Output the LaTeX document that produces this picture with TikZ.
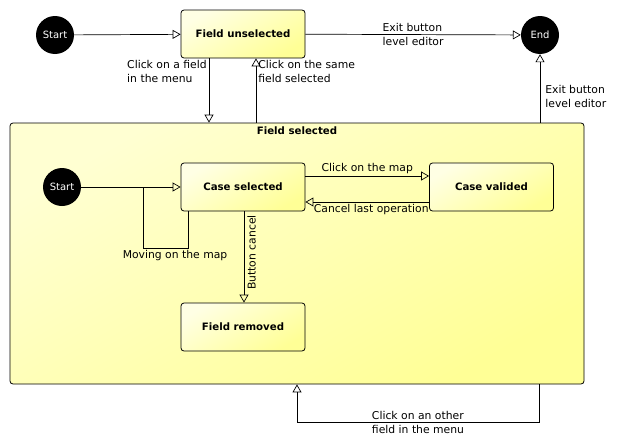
\documentclass[tikz,border=0pt]{standalone}
\usepackage{fontspec}
\setmainfont{DejaVu Sans}
\usetikzlibrary{positioning,shapes,arrows.meta}
\definecolor{statelight}{RGB}{255,255,228}
\definecolor{statedark}{RGB}{255,255,150}
\definecolor{regionlight}{RGB}{255,255,210}
\definecolor{regiondark}{RGB}{255,255,150}

\begin{document}
\begin{tikzpicture}[x=1pt,y=-1pt,font=\fontsize{10.8}{13.5}\selectfont,
        pseudo/.style={circle,fill=black,text=white,minimum size=38pt,inner sep=0pt,font=\fontsize{10}{12}\selectfont},
        state/.style={draw,line width=0.8pt,rounded corners=3pt,minimum width=124pt,minimum height=48pt,font=\fontsize{10.2}{12}\selectfont\bfseries,
            top color=statelight,bottom color=statedark,shading angle=30},
        region/.style={draw,line width=0.8pt,rounded corners=3pt,minimum width=574pt,minimum height=261pt,
            top color=regionlight,bottom color=regiondark,shading angle=30},
        trans/.style={draw,-{Triangle[open,length=8pt,width=9pt]},line width=0.7pt},
        lbl/.style={align=left,inner sep=2pt}]
    \useasboundingbox (0,0) rectangle (621,447);
    % top level
    \node[region] (fsel) at (297,253.5) {};
    \node[font=\fontsize{10.2}{12}\selectfont\bfseries,below=1pt of fsel.north] (fseltitle) {Field selected};
    \node[pseudo] (start) at (55,35) {Start};
    \node[state] (funsel) at (243,34) {Field unselected};
    \node[pseudo] (end) at (540,35) {End};
    % inside field selected
    \node[pseudo] (start2) at (62,187) {Start};
    \node[state] (csel) at (243,187) {Case selected};
    \node[state] (cval) at (491.5,187) {Case valided};
    \node[state] (frem) at (243,327) {Field removed};
    \coordinate (loopjoin) at (143,187);

    \draw[trans] (start) -- (funsel);
    \draw[trans] (funsel) -- node[lbl]{Exit button\\level editor} (end);
    \draw[trans] ([xshift=-34pt]funsel.south) -- node[lbl,at start,anchor=north east]{Click on a field\\in the menu} ([xshift=-34pt]funsel.south |- fsel.north);
    \draw[trans] ([xshift=13pt]funsel.south |- fsel.north) -- node[lbl,at end,anchor=north west]{Click on the same\\field selected} ([xshift=13pt]funsel.south);
    \draw[trans] (end.south |- fsel.north) -- node[lbl,pos=0.38,right=3pt]{Exit button\\level editor} (end.south);
    \draw[trans] (start2) -- (csel);
    \draw[line width=0.7pt] ([xshift=-55pt]csel.south) -- ++(0,37) node[lbl,below,xshift=-13pt]{Moving on the map} -| (loopjoin);
    \draw[trans] ([yshift=11pt]csel.east) -- node[lbl,above]{Click on the map} ([yshift=11pt]csel.east -| cval.west);
    \draw[trans] ([yshift=-15pt]cval.west) -- node[lbl,below,xshift=4pt]{Cancel last operation} ([yshift=-15pt]cval.west -| csel.east);
    \draw[trans] ([xshift=1pt]csel.south) -- node[lbl,pos=0.45,rotate=90,anchor=north,yshift=-1pt]{Button cancel} ([xshift=1pt]frem.north);
    \draw[trans] ([xshift=242pt]fsel.south) -- ++(0,38) -- node[lbl,midway]{Click on an other\\field in the menu} ++(-242,0) -- (fsel.south);
\end{tikzpicture}
\end{document}
